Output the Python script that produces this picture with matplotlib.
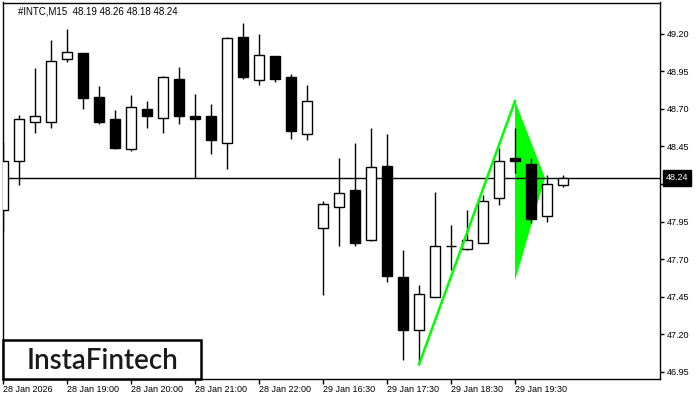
import numpy as np
import matplotlib.pyplot as plt
import matplotlib.transforms as mtransforms
from matplotlib.patches import Rectangle, Polygon

# fonts: narrow sans for the terminal look
plt.rcParams['font.family'] = ['Liberation Sans', 'DejaVu Sans']

# --- data (M15 bars of #INTC) ---
opens = [48.03, 48.35, 48.61, 48.61, 49.03, 49.07, 48.78, 48.63, 48.43, 48.70,
         48.64, 48.90, 48.65, 48.65, 48.47, 49.18, 48.89, 49.05, 48.91, 48.53,
         47.91, 48.05, 48.16, 47.83, 48.32, 47.58, 47.23, 47.45, 47.79, 47.77,
         47.81, 48.11, 48.37, 48.33, 47.99, 48.19]
highs = [48.48, 48.66, 48.97, 49.16, 49.23, 49.07, 48.85, 48.69, 48.79, 48.75,
         48.92, 48.98, 48.80, 48.73, 49.18, 49.27, 49.20, 49.05, 48.93, 48.86,
         48.09, 48.37, 48.47, 48.57, 48.53, 47.76, 47.53, 48.15, 47.93, 48.03,
         48.13, 48.44, 48.57, 48.37, 48.26, 48.26]
lows = [47.89, 48.19, 48.54, 48.57, 49.01, 48.70, 48.60, 48.43, 48.42, 48.57,
        48.54, 48.60, 48.24, 48.40, 48.30, 48.90, 48.86, 48.88, 48.50, 48.49,
        47.46, 47.79, 47.79, 47.82, 47.55, 47.03, 47.00, 47.45, 47.63, 47.76,
        47.81, 48.06, 48.27, 47.94, 47.95, 48.18]
closes = [48.35, 48.63, 48.65, 49.02, 49.08, 48.77, 48.61, 48.44, 48.71, 48.65,
          48.91, 48.65, 48.63, 48.49, 49.17, 48.91, 49.06, 48.90, 48.55, 48.75,
          48.07, 48.14, 47.81, 48.31, 47.59, 47.23, 47.47, 47.79, 47.79, 47.83,
          48.09, 48.35, 48.35, 47.97, 48.20, 48.24]

time_labels = ['28 Jan 2026', '28 Jan 19:00', '28 Jan 20:00', '28 Jan 21:00',
               '28 Jan 22:00', '29 Jan 16:30', '29 Jan 17:30', '29 Jan 18:30',
               '29 Jan 19:30']
price_ticks = [46.95, 47.20, 47.45, 47.70, 47.95, 48.20, 48.45, 48.70, 48.95, 49.20]
last_price = 48.24

# pennant: pole (bar index, price) and flag triangle
pole_idx = [26, 32]
pole_price = [47.00, 48.752]
flag_idx = [32, 33.875, 32]
flag_price = [48.752, 48.24, 47.557]

title = '#INTC,M15  48.19 48.26 48.18 48.24'

# --- figure ---
fig = plt.figure(figsize=(7, 4), dpi=100)
ax = fig.add_axes([3 / 700, 21 / 400, 657 / 700, 376.5 / 400])

o = np.array(opens)
h = np.array(highs)
l = np.array(lows)
c = np.array(closes)
x = np.arange(len(o))
up = c >= o

# flag triangle under everything
ax.add_patch(Polygon(np.column_stack([flag_idx, flag_price]), closed=True,
                     facecolor='#00ff00', edgecolor='none', zorder=1))

# bid line
ax.axhline(last_price, color='black', lw=1, zorder=1.5)

# candles
ax.vlines(x, l, h, color='black', lw=1, zorder=2)
ax.bar(x, c - o, bottom=o, width=0.62,
       color=np.where(up, 'white', 'black'), edgecolor='black',
       linewidth=1, zorder=3)

# pole line
ax.plot(pole_idx, pole_price, color='#00ff00', lw=1.8, zorder=4)

ax.set_xlim(0, 41.06)
ax.set_ylim(46.903, 49.407)

# axes / ticks
ax.yaxis.tick_right()
ax.set_yticks(price_ticks)
ax.set_yticklabels([f'{v:.2f}' for v in price_ticks])
ax.set_xticks(x[::4])
ax.set_xticklabels(time_labels)
for lbl in ax.get_xticklabels():
    lbl.set_ha('left')
ax.tick_params(axis='y', direction='out', length=3, width=1,
               labelsize=6.5, pad=2, colors='black')
ax.tick_params(axis='x', direction='out', length=3.5, width=1,
               labelsize=6.5, pad=1, colors='black')
for s in ax.spines.values():
    s.set_linewidth(1)
    s.set_color('black')

# current price tag
trans = mtransforms.blended_transform_factory(ax.transAxes, ax.transData)
ax.text(1.0087, last_price, f'{last_price:.2f}', transform=trans, color='white',
        fontsize=6.5, va='center', ha='left', clip_on=False, zorder=10,
        bbox=dict(boxstyle='square,pad=0.35', facecolor='black', edgecolor='black'))

# title
ax.text(15 / 657, 1 - 8.5 / 376.5, title, transform=ax.transAxes,
        fontsize=7, va='center', ha='left', color='black')

# logo box
ax.add_patch(Rectangle((0, 0), 198 / 657, 39 / 376.5, transform=ax.transAxes,
                       facecolor='white', edgecolor='black', lw=1.8,
                       zorder=5, clip_on=False))
ax.text(99 / 657, 9.7 / 376.5, 'InstaFintech', transform=ax.transAxes,
        ha='center', va='baseline', fontsize=20, family='Lato',
        fontweight='semibold', color='#1a1a1a', zorder=6)

fig.savefig('out.png', dpi=100)
